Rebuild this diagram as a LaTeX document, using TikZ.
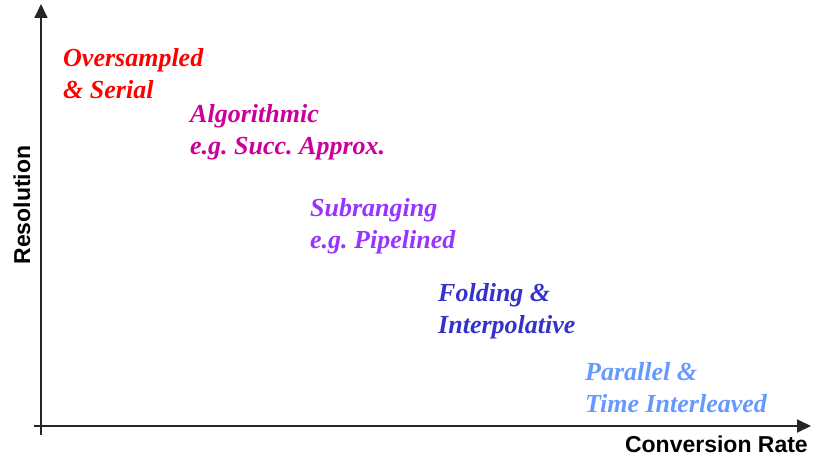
\documentclass[tikz,border=0pt]{standalone}
\usepackage{fontspec}
\setmainfont{Liberation Serif}
\setsansfont{Liberation Sans}
\usetikzlibrary{arrows.meta}
\definecolor{cOver}{RGB}{255,0,0}
\definecolor{cAlgo}{RGB}{204,0,153}
\definecolor{cSub}{RGB}{153,51,255}
\definecolor{cFold}{RGB}{51,51,204}
\definecolor{cPar}{RGB}{102,153,255}
\tikzset{
  cat/.style={anchor=base west,inner sep=0pt,align=left,
    font=\fontsize{26}{32}\selectfont\bfseries\itshape\frenchspacing},
  axislabel/.style={inner sep=0pt,font=\fontsize{23}{27}\selectfont\sffamily\bfseries},
  axis/.style={line width=1.8pt,draw=black!85,-{Triangle[length=14pt,width=13pt]}}
}
\begin{document}
\begin{tikzpicture}[x=1pt,y=-1pt]
\useasboundingbox (0,0) rectangle (813,460);
\coordinate (yb) at (41,435);
\coordinate (yt) at (41,4);
\coordinate (xl) at (34,426);
\coordinate (xr) at (811,426);
\draw[axis] (yb) -- (yt);
\draw[axis] (xl) -- (xr);
\node[cat,text=cOver] (over) at (63,98) {Oversampled\\\& Serial};
\node[cat,text=cAlgo] (algo) at (190,154) {Algorithmic\\e.g. Succ. Approx.};
\node[cat,text=cSub] (sub) at (310,248) {Subranging\\e.g. Pipelined};
\node[cat,text=cFold] (fold) at (438,333) {Folding \&\\Interpolative};
\node[cat,text=cPar] (par) at (585,412) {Parallel \&\\Time Interleaved};
\node[axislabel,anchor=base east] (xlab) at (808,452) {Conversion Rate};
\node[axislabel,anchor=base,rotate=90] (ylab) at (30,205) {Resolution};
\end{tikzpicture}
\end{document}
